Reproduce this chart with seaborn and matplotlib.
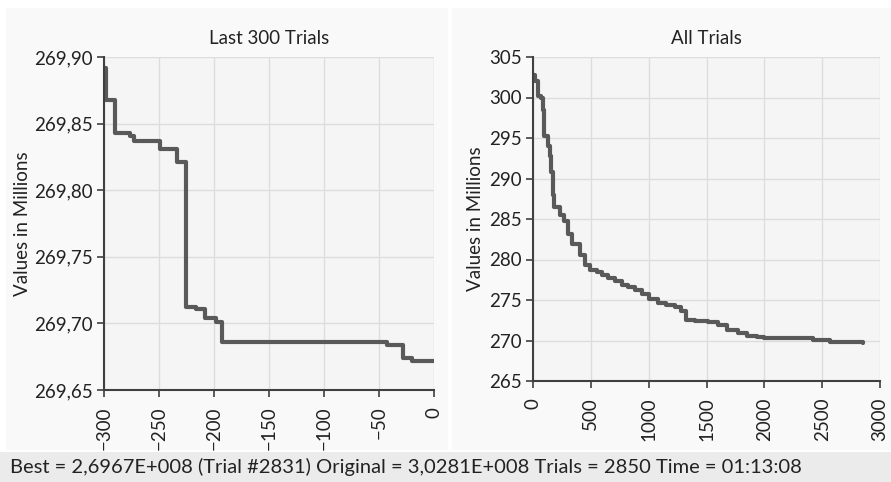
import matplotlib
matplotlib.use("Agg")
import matplotlib.pyplot as plt
import matplotlib.ticker as mticker
from matplotlib.patches import Rectangle
import seaborn as sns
import pandas as pd

# ---------------- data ----------------
last_trials = [-300, -298, -290, -276, -273, -249, -234, -225, -216, -208, -198, -193, -43, -28, -20, 0]
last_values = [269.892, 269.868, 269.843, 269.841, 269.837, 269.831, 269.821, 269.712, 269.711,
               269.704, 269.701, 269.686, 269.684, 269.674, 269.672, 269.672]

all_trials = [0, 20, 40, 70, 85, 95, 130, 150, 155, 170, 185, 230, 270, 300, 340, 410, 450, 490,
              550, 600, 650, 710, 770, 825, 880, 940, 1000, 1085, 1150, 1225, 1280, 1325, 1400,
              1510, 1600, 1680, 1770, 1850, 1940, 2000, 2420, 2570, 2850]
all_values = [302.8, 302.0, 300.2, 300.0, 298.5, 295.2, 294.0, 292.8, 290.8, 288.0, 286.5, 285.5,
              284.7, 283.2, 281.9, 280.6, 279.3, 278.7, 278.4, 278.1, 277.7, 277.3, 276.9, 276.6,
              276.2, 275.8, 275.1, 274.6, 274.4, 274.17, 273.6, 272.5, 272.4, 272.3, 271.9, 271.3,
              270.9, 270.56, 270.4, 270.27, 270.06, 269.8, 269.67]

left_xticks = [-300, -250, -200, -150, -100, -50, 0]
left_yticks = [269.65, 269.70, 269.75, 269.80, 269.85, 269.90]
left_ylabels = ["269,65", "269,70", "269,75", "269,80", "269,85", "269,90"]
right_xticks = [0, 500, 1000, 1500, 2000, 2500, 3000]
right_yticks = [265, 270, 275, 280, 285, 290, 295, 300, 305]

title_left = "Last 300 Trials"
title_right = "All Trials"
ylabel = "Values in Millions"
status = "Best = 2,6967E+008 (Trial #2831) Original = 3,0281E+008 Trials = 2850 Time = 01:13:08"

# ---------------- style ----------------
sns.set_theme(style="ticks")
plt.rcParams["font.family"] = ["Lato", "DejaVu Sans"]

W, H = 891, 482
fig = plt.figure(figsize=(W / 100, H / 100), dpi=100)
fig.patch.set_facecolor("white")

def px_rect(x0, y0, x1, y1):
    return [x0 / W, (H - y1) / H, (x1 - x0) / W, (y1 - y0) / H]

# panel backgrounds
for (x0, y0, x1, y1) in [(6, 8, 448, 450), (452, 8, 891, 450)]:
    r = px_rect(x0, y0, x1, y1)
    fig.patches.append(Rectangle((r[0], r[1]), r[2], r[3], transform=fig.transFigure,
                                 facecolor="#f9f9f9", edgecolor="none", zorder=-5))
# status bar
r = px_rect(0, 452, 891, 482)
fig.patches.append(Rectangle((r[0], r[1]), r[2], r[3], transform=fig.transFigure,
                             facecolor="#ebebeb", edgecolor="none", zorder=-5))

line_color = "#595959"
spine_color = "#404040"
grid_color = "#dddddd"
fs = 13.5

def style_ax(ax):
    ax.set_facecolor("#f5f5f5")
    for s in ["top", "right"]:
        ax.spines[s].set_visible(False)
    for s in ["left", "bottom"]:
        ax.spines[s].set_color(spine_color)
        ax.spines[s].set_linewidth(1.5)
    ax.tick_params(axis="both", direction="out", length=5, width=1.2, color=spine_color,
                   labelsize=fs, labelcolor="#222222", pad=3)
    ax.tick_params(axis="x", labelrotation=90, pad=7)
    ax.grid(True, color=grid_color, linewidth=1)
    ax.set_axisbelow(True)

# left axes
axL = fig.add_axes(px_rect(104, 57, 434, 390))
axL.set_zorder(2)
dfL = pd.DataFrame({"trial": last_trials, "value": last_values})
sns.lineplot(data=dfL, x="trial", y="value", ax=axL, color=line_color, linewidth=3.0,
             drawstyle="steps-post", estimator=None, sort=False)
axL.set_xlim(-300, 0)
axL.set_ylim(269.65, 269.90)
axL.set_xticks(left_xticks)
axL.set_yticks(left_yticks)
axL.set_yticklabels(left_ylabels)
style_ax(axL)
axL.set_xlabel("")
axL.set_ylabel(ylabel, fontsize=fs, color="#222222", labelpad=2)
axL.set_title(title_left, fontsize=fs, color="#222222", pad=9)

# right axes
axR = fig.add_axes(px_rect(533, 57, 880, 381))
axR.set_zorder(2)
dfR = pd.DataFrame({"trial": all_trials + [all_trials[-1]], "value": all_values + [all_values[-1]]})
sns.lineplot(data=dfR, x="trial", y="value", ax=axR, color=line_color, linewidth=3.0,
             drawstyle="steps-post", estimator=None, sort=False)
axR.set_xlim(0, 3000)
axR.set_ylim(265, 305)
axR.set_xticks(right_xticks)
axR.set_yticks(right_yticks)
axR.yaxis.set_major_formatter(mticker.FormatStrFormatter("%d"))
style_ax(axR)
axR.set_xlabel("")
axR.set_ylabel(ylabel, fontsize=fs, color="#222222", labelpad=4)
axR.set_title(title_right, fontsize=fs, color="#222222", pad=9)

fig.text(10 / W, (H - 467) / H, status, fontsize=14.5, color="#222222", va="center", ha="left")

fig.savefig("out.png", dpi=100, facecolor=fig.get_facecolor())
